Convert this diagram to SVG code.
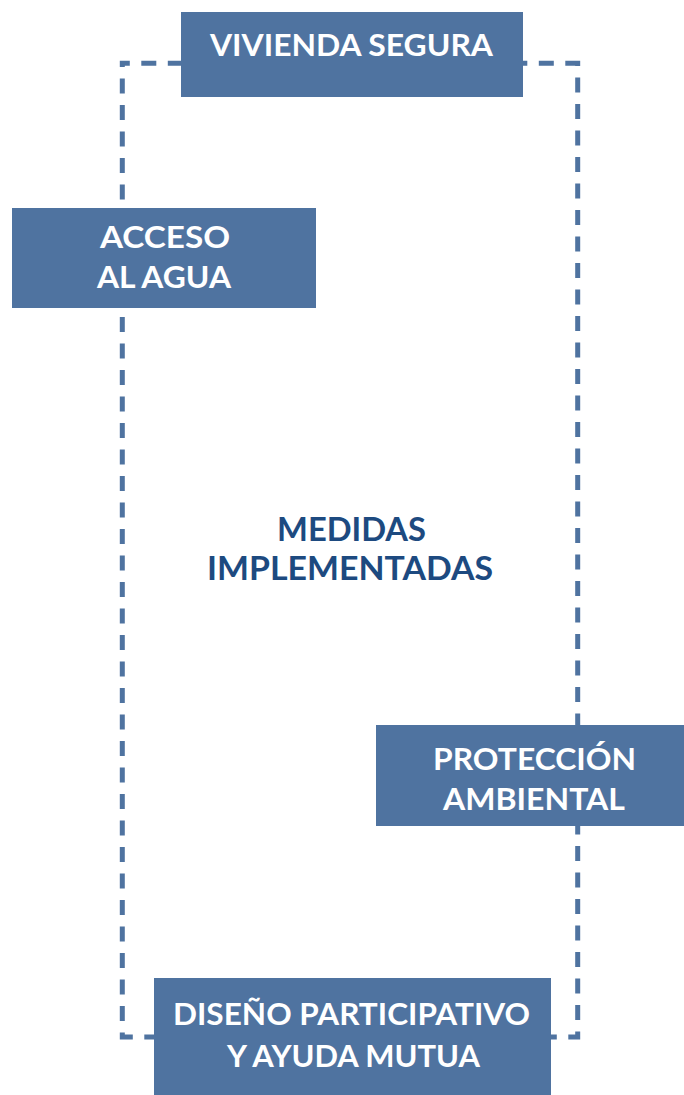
<svg xmlns="http://www.w3.org/2000/svg" width="684" height="1095" viewBox="0 0 684 1095">
<style>
.box{fill:#4f73a0}
.t{font-family:Lato,"Noto Sans",sans-serif;font-weight:700;font-size:31px;fill:#ffffff;text-anchor:middle}
.c{font-family:Lato,"Noto Sans",sans-serif;font-weight:700;font-size:32px;fill:#1d4a80;text-anchor:middle}
.dash{fill:none;stroke:#4f73a0;stroke-width:5;stroke-dasharray:15 11.5;stroke-dashoffset:7.5}
</style>
<rect width="684" height="1095" fill="#ffffff"/>
<g id="connectors">
<rect class="dash" x="122.3" y="63.3" width="455.4" height="973.7"/>
</g>
<g id="vivienda">
<rect class="box" x="181" y="12" width="342" height="85"/>
<text class="t" x="351.5" y="56" textLength="283" lengthAdjust="spacingAndGlyphs">VIVIENDA SEGURA</text>
</g>
<g id="acceso">
<rect class="box" x="12" y="208" width="304" height="100"/>
<text class="t" x="165" y="248" textLength="130" lengthAdjust="spacingAndGlyphs">ACCESO</text>
<text class="t" x="164" y="288" textLength="134" lengthAdjust="spacingAndGlyphs">AL AGUA</text>
</g>
<g id="medidas">
<text class="c" x="351.5" y="541" textLength="149" lengthAdjust="spacingAndGlyphs">MEDIDAS</text>
<text class="c" x="350" y="580" textLength="286" lengthAdjust="spacingAndGlyphs">IMPLEMENTADAS</text>
</g>
<g id="proteccion">
<rect class="box" x="376" y="725" width="308" height="101"/>
<text class="t" x="534.5" y="770" textLength="203" lengthAdjust="spacingAndGlyphs">PROTECCIÓN</text>
<text class="t" x="534" y="810" textLength="182" lengthAdjust="spacingAndGlyphs">AMBIENTAL</text>
</g>
<g id="diseno">
<rect class="box" x="154" y="978" width="397" height="117"/>
<text class="t" x="351.5" y="1025" textLength="357" lengthAdjust="spacingAndGlyphs">DISEÑO PARTICIPATIVO</text>
<text class="t" x="353.5" y="1067" textLength="253" lengthAdjust="spacingAndGlyphs">Y AYUDA MUTUA</text>
</g>
</svg>
